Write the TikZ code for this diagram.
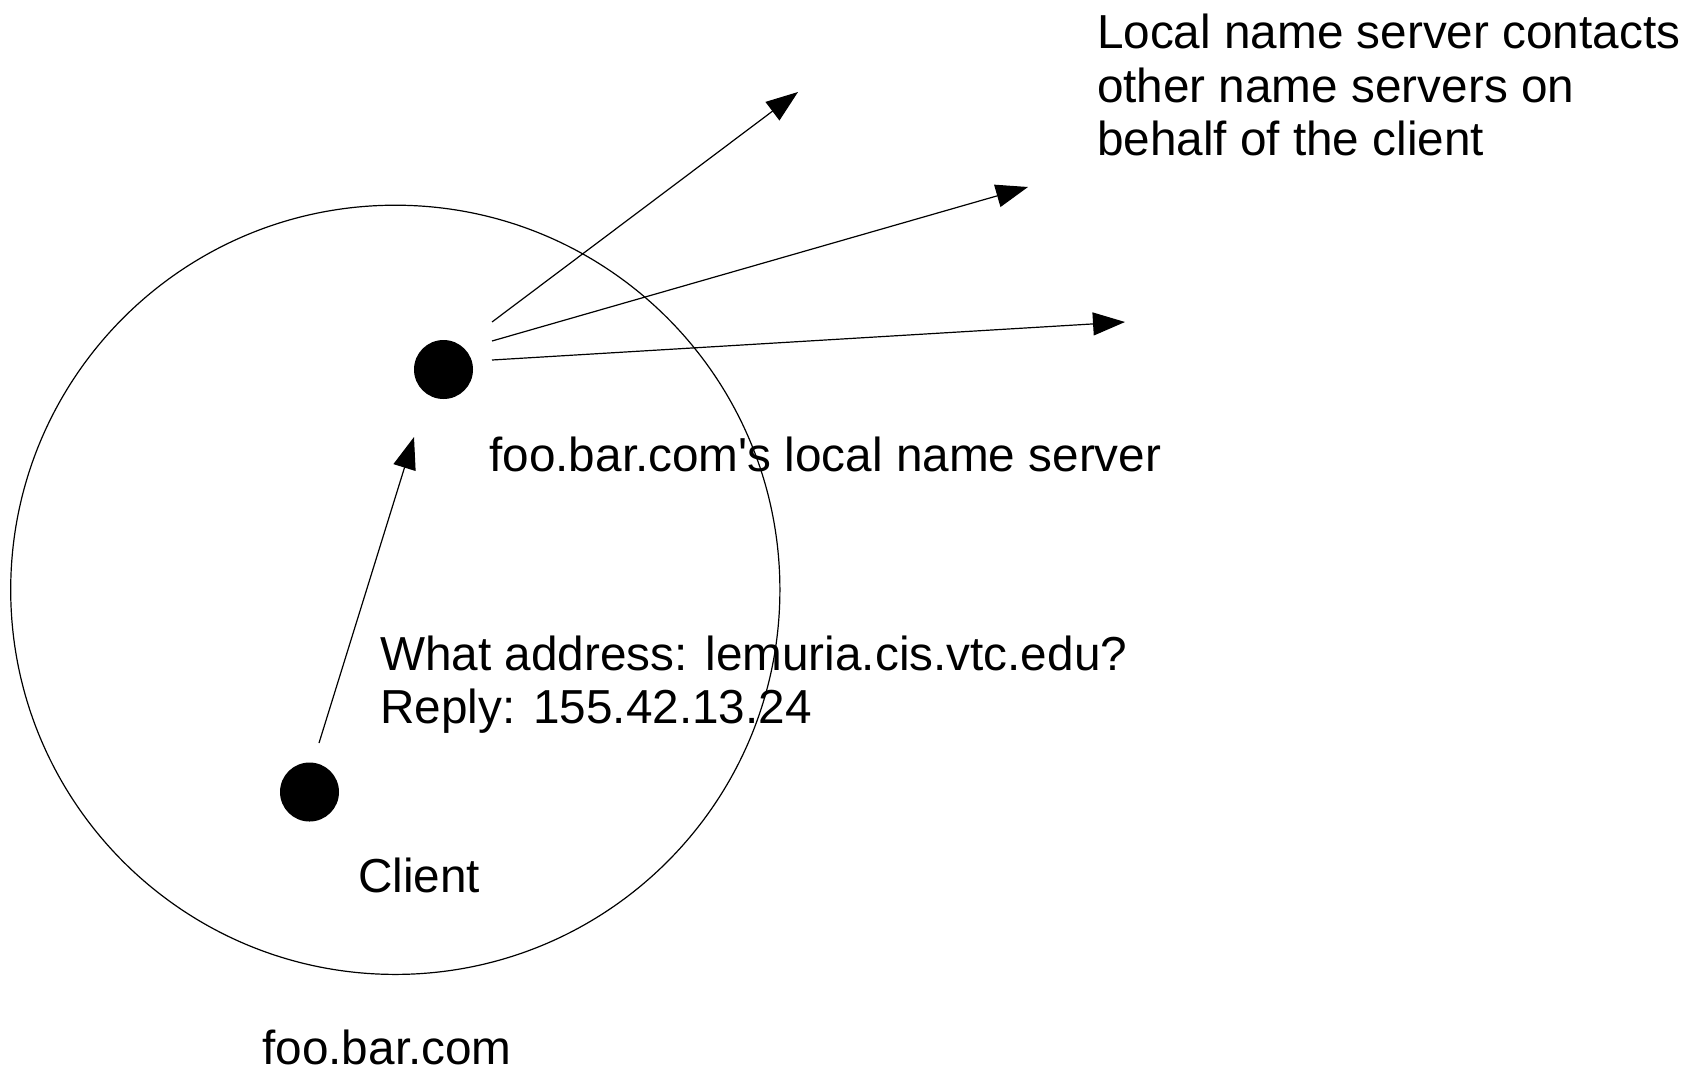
\documentclass[tikz,border=0pt]{standalone}
\usepackage{fontspec}
\setmainfont{Liberation Sans}[Ligatures=TeXOff]
\usetikzlibrary{arrows.meta}

\begin{document}
\begin{tikzpicture}[x=0.5pt, y=-0.5pt,
        dot/.style={circle, fill=black, inner sep=0pt, minimum size=29.5pt},
        note/.style={anchor=base west, inner sep=0pt, align=left, font=\fontsize{23.85}{26.75}\selectfont},
        query/.style={-{Triangle[length=16pt, width=11.5pt]}, line width=0.6pt}]
    \useasboundingbox (0, 0) rectangle (1689, 1071);

    \node[draw, circle, inner sep=0pt, minimum size=384.6pt, line width=0.6pt] (domain) at (395.3, 589.8) {};
    \node[dot] (server) at (443.5, 369.5) {};
    \node[dot] (client) at (309.5, 792) {};

    \coordinate (out1) at (798, 92);
    \coordinate (out2) at (1028, 187);
    \coordinate (out3) at (1125, 322);

    \draw[query] ([shift={(9.5, -49)}]client.center) -- ([shift={(-29.5, 67.5)}]server.center);
    \draw[query] ([shift={(48.5, -47.5)}]server.center) -- (out1);
    \draw[query] ([shift={(48.5, -28.5)}]server.center) -- (out2);
    \draw[query] ([shift={(48.5, -9.5)}]server.center) -- (out3);

    % base of a multi-line note is its last line
    \node[note] (contacts) at (1096.6, 155.5) {Local name server contacts\\other name servers on\\behalf of the client};
    \node[note] (servername) at (489, 471) {foo.bar.com's local name server};
    \node[note] (question) at (380, 723.5) {What address: lemuria.cis.vtc.edu?\\Reply: 155.42.13.24};
    \node[note] (clientname) at (357.6, 892) {Client};
    \node[note] (domainname) at (262, 1064) {foo.bar.com};

\end{tikzpicture}
\end{document}
